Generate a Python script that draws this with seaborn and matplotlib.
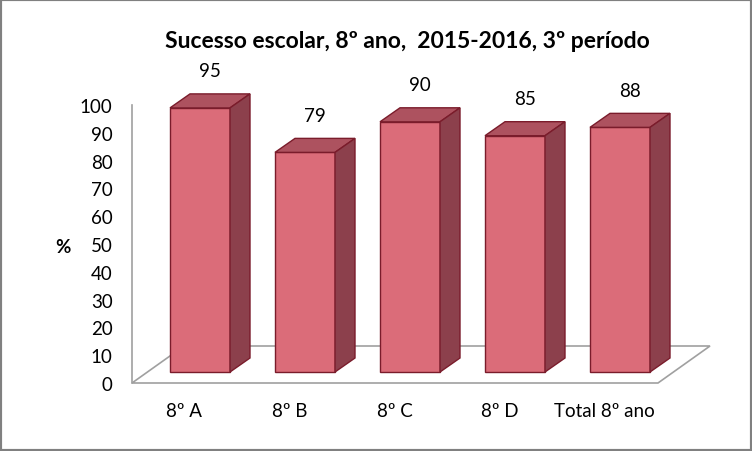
import numpy as np
import pandas as pd
import matplotlib
matplotlib.use("Agg")
import matplotlib.pyplot as plt
from matplotlib.patches import Polygon, Rectangle
import seaborn as sns

# dados do gráfico
turmas = ["8º A", "8º B", "8º C", "8º D", "Total 8º ano"]
sucesso = [95, 79, 90, 85, 88]
y_ticks = list(range(0, 101, 10))
titulo = "Sucesso escolar, 8º ano,  2015-2016, 3º período"

df = pd.DataFrame({"turma": turmas, "sucesso": sucesso})

# cores (Excel 3D)
cor_frente = "#DB6C79"
cor_topo = "#AD525F"
cor_lado = "#8C404C"
cor_borda = "#7A1C2B"
cor_cinza = "#A0A0A0"

sns.set_theme(style="white")
plt.rcParams["font.family"] = ["Lato", "DejaVu Sans"]

W, H = 752, 452
fig = plt.figure(figsize=(W / 100, H / 100), dpi=100)

# eixo: 0 em y=384px, 100 em y=106px, de x=132px até 658px
ax = fig.add_axes([132 / W, (H - 384) / H, (658 - 132) / W, (384 - 106) / H])
ax.patch.set_alpha(0)

sns.barplot(data=df, x="turma", y="sucesso", ax=ax, color=cor_frente,
            width=60 / 105, saturation=1, edgecolor=cor_borda, linewidth=1, zorder=3)
ax.set_xlim(-0.5, -0.5 + 526 / 105)
ax.set_ylim(0, 100)
barras = list(ax.patches)

def desloc(dx, dy):
    # deslocamento em pixels convertido para unidades de dados
    o = ax.transData.transform((0, 0))
    p = ax.transData.inverted().transform(o + np.array([dx, dy]))
    return p[0], p[1]

# profundidade do chão e das barras
chao_dx, chao_dy = desloc(52, 37)
barra_sx, barra_sy = desloc(15.5, 11)
prof_dx, prof_dy = desloc(20, 14)

x0, x1 = ax.get_xlim()
chao = Polygon([(x0, 0), (x1, 0), (x1 + chao_dx, chao_dy), (x0 + chao_dx, chao_dy)],
               closed=True, facecolor="white", edgecolor=cor_cinza, lw=1.2, zorder=1,
               clip_on=False)
ax.add_patch(chao)

for p in barras:
    bx, bw, bh = p.get_x(), p.get_width(), p.get_height()
    bx += barra_sx
    by = barra_sy
    p.set_x(bx)
    p.set_y(by)
    p.set_clip_on(False)
    topo = Polygon([(bx, by + bh), (bx + bw, by + bh), (bx + bw + prof_dx, by + bh + prof_dy),
                    (bx + prof_dx, by + bh + prof_dy)], closed=True,
                   facecolor=cor_topo, edgecolor=cor_borda, lw=1, zorder=3, clip_on=False)
    lado = Polygon([(bx + bw, by), (bx + bw + prof_dx, by + prof_dy),
                    (bx + bw + prof_dx, by + bh + prof_dy), (bx + bw, by + bh)], closed=True,
                   facecolor=cor_lado, edgecolor=cor_borda, lw=1, zorder=3, clip_on=False)
    ax.add_patch(topo)
    ax.add_patch(lado)

for i, v in enumerate(sucesso):
    ax.annotate(f"{v}", xy=(i, v), xytext=(25.5, 48), textcoords="offset pixels",
                ha="center", va="center", fontsize=13.5, color="black")

ax.set_yticks(y_ticks)
ax.set_yticklabels([str(t) for t in y_ticks])
ax.tick_params(axis="y", length=0, pad=14, labelsize=13.5, labelcolor="black")
ax.tick_params(axis="x", length=0, pad=14, labelsize=13.5, labelcolor="black")
ax.set_xlabel("")
ax.set_ylabel("%", rotation=0, fontsize=13.5, fontweight="bold", color="black",
              ha="center", va="center")
ax.yaxis.set_label_coords((63 - 132) / 526, (384 - 248) / 278)
for s in ["top", "right", "bottom"]:
    ax.spines[s].set_visible(False)
ax.spines["left"].set_color(cor_cinza)
ax.spines["left"].set_linewidth(1.2)
ax.grid(False)

fig.text(407 / W, 1 - 42 / H, titulo, ha="center", va="center",
         fontsize=16.5, fontweight="bold", color="black")

# moldura do gráfico
fig.patches.append(Rectangle((0, 0), 1, 1, transform=fig.transFigure, fill=False,
                             edgecolor="#808080", lw=3, figure=fig))

fig.savefig("out.png", dpi=100)
